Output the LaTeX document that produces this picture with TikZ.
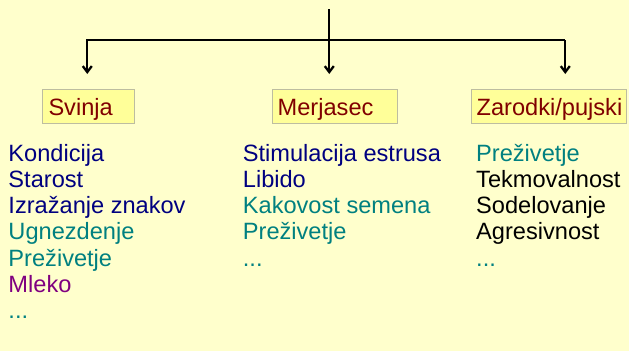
\documentclass[tikz,border=0pt]{standalone}
\usepackage{fontspec}
\setmainfont{Liberation Sans}
\usetikzlibrary{arrows.meta}
\definecolor{bg}{HTML}{FFFFCC}
\definecolor{boxfill}{HTML}{FFFF99}
\definecolor{boxline}{HTML}{BDBDA0}
\definecolor{boxtext}{HTML}{800000}
\definecolor{navy}{HTML}{000080}
\definecolor{tealc}{HTML}{008080}
\definecolor{purp}{HTML}{800080}
\begin{document}
\begin{tikzpicture}[x=1pt,y=1pt,
  lbl/.style={draw=boxline,line width=0.8pt,fill=boxfill,anchor=north west,minimum height=34pt,inner sep=0pt},
  lbltext/.style={anchor=base west,inner sep=0pt,text=boxtext,font=\fontsize{23.6}{26}\selectfont},
  item/.style={anchor=base west,inner sep=0pt,font=\fontsize{23.6}{26}\selectfont},
  conn/.style={line width=2.3pt,black},
  arr/.style={conn,-{Straight Barb[length=6pt,width=9pt,line width=2.3pt]}}]
\fill[bg] (0,0) rectangle (629,-351);
\useasboundingbox (0,0) rectangle (629,-351);
% boxes
\node[lbl,minimum width=92pt] (svinja) at (42.3,-89) {};
\node[lbltext] (svinjat) at (48.3,-115) {Svinja};
\node[lbl,minimum width=125pt] (merjasec) at (271.7,-89) {};
\node[lbltext] (merjasect) at (277.5,-115) {Merjasec};
\node[lbl,minimum width=155pt] (zarodki) at (470.7,-89) {};
\node[lbltext] (zarodkit) at (476.5,-115) {Zarodki/pujski};
% connectors
\coordinate (top) at (329.3,-9);
\coordinate (jl) at (87.3,-40);
\coordinate (jr) at (565.3,-40);
\coordinate (t1) at (87.3,-74);
\coordinate (t2) at (329.3,-74);
\coordinate (t3) at (565.3,-74);
\draw[arr] (top) -- (t2);
\draw[arr] (jr) -- (jl) -- (t1);
\draw[arr] (jr) -- (t3);
% column 1
\node[item,text=navy] (a1) at (8.3,-161) {Kondicija};
\node[item,text=navy] (a2) at (8.3,-187.3) {Starost};
\node[item,text=navy] (a3) at (8.3,-213.6) {Izražanje znakov};
\node[item,text=tealc] (a4) at (8.3,-239.9) {Ugnezdenje};
\node[item,text=tealc] (a5) at (8.3,-266.2) {Preživetje};
\node[item,text=purp] (a6) at (8.3,-292.5) {Mleko};
\node[item,text=tealc] (a7) at (8.3,-318.8) {...};
% column 2
\node[item,text=navy] (b1) at (242.7,-161) {Stimulacija estrusa};
\node[item,text=navy] (b2) at (242.7,-187.3) {Libido};
\node[item,text=tealc] (b3) at (242.7,-213.6) {Kakovost semena};
\node[item,text=tealc] (b4) at (242.7,-239.9) {Preživetje};
\node[item,text=tealc] (b5) at (242.7,-266.2) {...};
% column 3
\node[item,text=tealc] (c1) at (476,-161) {Preživetje};
\node[item,text=black] (c2) at (476,-187.3) {Tekmovalnost};
\node[item,text=black] (c3) at (476,-213.6) {Sodelovanje};
\node[item,text=black] (c4) at (476,-239.9) {Agresivnost};
\node[item,text=tealc] (c5) at (476,-266.2) {...};
\end{tikzpicture}
\end{document}
